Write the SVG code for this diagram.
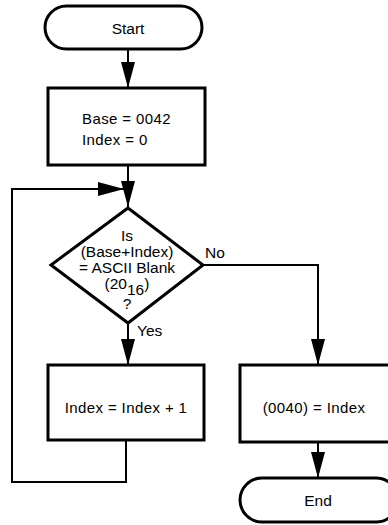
<svg xmlns="http://www.w3.org/2000/svg" width="388" height="525" viewBox="0 0 388 525">
<style>
.shape{fill:#fff;stroke:#000;stroke-width:3}
.line{fill:none;stroke:#000;stroke-width:2}
.t{font-family:"Liberation Sans",Arial,sans-serif;font-size:15px;fill:#000;letter-spacing:0.4px}
.d{font-family:"Liberation Sans",Arial,sans-serif;font-size:15.5px;fill:#000}
</style>
<defs>
<marker id="ah" markerWidth="26" markerHeight="14" refX="26" refY="7" orient="auto" markerUnits="userSpaceOnUse" viewBox="0 0 26 14">
<path d="M0,0 L26,7 L0,14 Z" fill="#000"/>
</marker>
</defs>
<rect width="388" height="525" fill="#fff"/>
<g id="connectors">
<line class="line" x1="128" y1="49" x2="128" y2="88" marker-end="url(#ah)"/>
<line class="line" x1="128" y1="165" x2="128" y2="207" marker-end="url(#ah)"/>
<polyline class="line" points="126,440 126,482 12,482 12,189 124,189" marker-end="url(#ah)"/>
<line class="line" x1="128" y1="323" x2="128" y2="365" marker-end="url(#ah)"/>
<polyline class="line" points="203,265 318,265 318,365" marker-end="url(#ah)"/>
<line class="line" x1="318" y1="442" x2="318" y2="478" marker-end="url(#ah)"/>
<text class="d" x="205" y="258">No</text>
<text class="d" x="137" y="336">Yes</text>
</g>
<g id="start">
<rect class="shape" x="45" y="6" width="157" height="43" rx="21.5"/>
<text class="d" x="128" y="34" text-anchor="middle">Start</text>
</g>
<g id="init">
<rect class="shape" x="48" y="88" width="157" height="77"/>
<text class="t" x="82" y="124">Base = 0042</text>
<text class="t" x="82" y="145">Index = 0</text>
</g>
<g id="decision">
<polygon class="shape" points="128,208 203,265 128,323 51,265"/>
<text class="d" x="127" y="241" text-anchor="middle">Is</text>
<text class="d" x="127" y="257" text-anchor="middle">(Base+Index)</text>
<text class="d" x="127" y="273" text-anchor="middle">= ASCII Blank</text>
<text class="d" x="127" y="289" text-anchor="middle">(20<tspan dy="6">16</tspan><tspan dy="-6">)</tspan></text>
<text class="d" x="127" y="309" text-anchor="middle">?</text>
</g>
<g id="increment">
<rect class="shape" x="48" y="365" width="156" height="75"/>
<text class="t" x="126" y="413" text-anchor="middle">Index = Index + 1</text>
</g>
<g id="store">
<rect class="shape" x="240" y="365" width="158" height="77"/>
<text class="t" x="314" y="413" text-anchor="middle">(0040) = Index</text>
</g>
<g id="end">
<rect class="shape" x="240" y="478" width="158" height="44" rx="22"/>
<text class="d" x="318" y="506" text-anchor="middle">End</text>
</g>
</svg>
